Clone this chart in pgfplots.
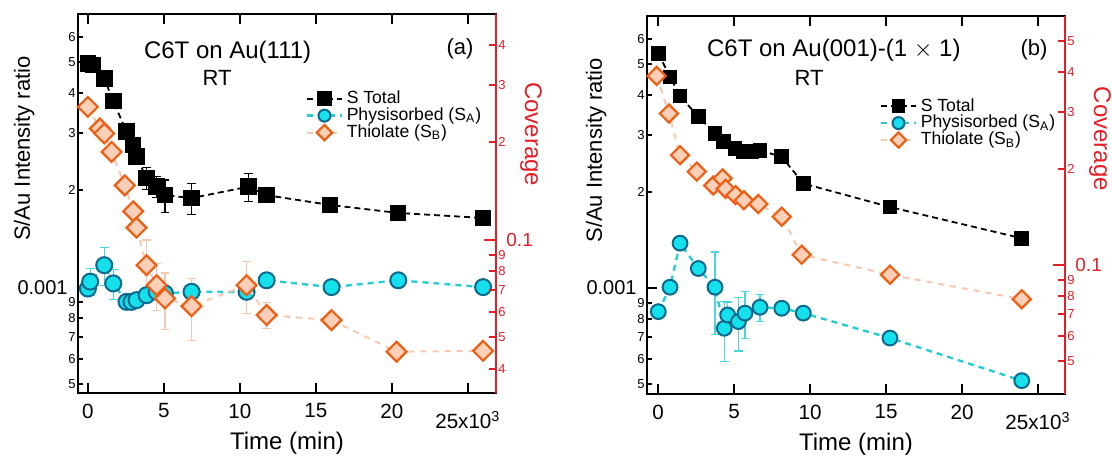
\documentclass[border=0pt]{standalone}
\usepackage{fontspec}
\setmainfont{Liberation Sans}
\usepackage{pgfplots}
\pgfplotsset{compat=1.18}
\definecolor{cyfill}{RGB}{20,225,235}
\definecolor{cyedge}{RGB}{10,105,140}
\definecolor{cyline}{RGB}{40,205,210}
\definecolor{cybar}{RGB}{70,215,225}
\definecolor{ored}{RGB}{238,95,20}
\definecolor{ofill}{RGB}{252,208,184}
\definecolor{oline}{RGB}{247,200,176}
\definecolor{axred}{RGB}{228,30,38}
\begin{document}
\begin{tikzpicture}
\useasboundingbox (0,0) rectangle (556pt,229pt);
% ---------------- panel (a) ----------------
\begin{axis}[anchor=south west, scale only axis, width=209pt, height=189.5pt,
    at={(39pt,32.5pt)},
    xmin=-650, xmax=26850, ymin=4.69e-4, ymax=7.05e-3,
    ymode=log, clip mode=individual, scaled x ticks=false,
    axis line style={line width=1.1pt},
    tick style={line width=1pt, black},
    tick align=inside, major tick length=5pt,
    xtick={0,5000,10000,15000,20000,25000},
    xticklabels={0,5,10,15,20,{\rule{0pt}{12.4pt}25x10\textsuperscript{3}}},
    xtick pos=both, xticklabel pos=lower,
    xticklabel style={font=\fontsize{10.3}{12}\selectfont, yshift=-1.8pt},
    ytick={1e-3}, yticklabels={0.001\hspace*{4pt}},
    yticklabel style={font=\fontsize{10}{12}\selectfont, inner xsep=1pt},
    ytick pos=left,
    extra y ticks={5e-4,6e-4,7e-4,8e-4,9e-4,2e-3,3e-3,4e-3,5e-3,6e-3},
    extra y tick labels={5,6,7,8,9,2,3,4,5,6},
    extra y tick style={major tick length=2.5pt, yticklabel style={font=\fontsize{6.5}{7}\selectfont}},
    yminorticks=false, xminorticks=false,
    xlabel={Time (min)}, ylabel={S/Au Intensity ratio},
    xlabel style={font=\fontsize{12}{14}\selectfont, at={(axis description cs:0.5,-0.150)}, anchor=base},
    ylabel style={font=\fontsize{11}{13}\selectfont, at={(axis description cs:-0.115,0.645)}, anchor=base},
    legend style={draw=none, fill=none, anchor=north west, inner sep=0pt,
      at={(rel axis cs:0.545,0.80)},
      font=\fontsize{8.8}{10}\selectfont, nodes={inner ysep=0.3pt, inner xsep=2pt}},
    legend cell align=left]
\addlegendimage{black, line width=0.9pt, dash pattern=on 3pt off 2pt, mark=square*, mark size=3.2pt, mark options={solid, fill=black}}
\addlegendentry{S Total}
\addlegendimage{cyline, line width=1.2pt, dash pattern=on 3pt off 2.5pt, mark=*, mark size=3pt, mark options={solid, fill=cyfill, draw=cyedge, line width=1pt}}
\addlegendentry{Physisorbed (S\textsubscript{A})}
\addlegendimage{oline, line width=1pt, dash pattern=on 3pt off 3pt, mark=square*, mark size=2.7pt, mark options={solid, rotate=45, fill=ofill, draw=ored, line width=1.1pt}}
\addlegendentry{Thiolate (S\textsubscript{B})}
% error bars
\addplot[forget plot, only marks, mark=none,
  error bars/y dir=both, error bars/y explicit, error bars/error mark=-,
  error bars/error bar style={line width=0.6pt, draw=oline, solid},
  error bars/error mark options={rotate=90, mark size=2.2pt, line width=0.6pt, draw=oline, solid}] coordinates {
 (3860,1.17e-3) +- (0,0.23e-3) (4520,1.014e-3) +- (0,0.17e-3) (5070,0.922e-3) +- (0,0.185e-3)
 (6820,0.873e-3) +- (0,0.19e-3) (10440,1.014e-3) +- (0,0.185e-3) (11760,0.819e-3) +- (0,0.077e-3)};
\addplot[forget plot, only marks, mark=none,
  error bars/y dir=both, error bars/y explicit, error bars/error mark=-,
  error bars/error bar style={line width=0.6pt, draw=cybar, solid},
  error bars/error mark options={rotate=90, mark size=2.2pt, line width=0.6pt, draw=cybar, solid}] coordinates {
 (150,1.04e-3) +- (0,0.1e-3) (1075,1.17e-3) +- (0,0.16e-3) (1670,1.027e-3) +- (0,0.11e-3)
 (4520,0.967e-3) +- (0,0.05e-3) (6820,0.967e-3) +- (0,0.05e-3)};
\addplot[forget plot, only marks, mark=none,
  error bars/y dir=both, error bars/y explicit, error bars/error mark=-,
  error bars/error bar style={line width=0.6pt, draw=black, solid},
  error bars/error mark options={rotate=90, mark size=2.2pt, line width=0.6pt, draw=black, solid}] coordinates {
 (3860,2.18e-3) +- (0,0.17e-3) (4520,2.05e-3) +- (0,0.15e-3) (5070,1.93e-3) +- (0,0.22e-3)
 (6820,1.89e-3) +- (0,0.21e-3) (10550,2.05e-3) +- (0,0.2e-3)};
% data
\addplot[forget plot, cyline, line width=1.2pt, dash pattern=on 3pt off 2.5pt, mark=*, mark size=4pt, mark options={solid, fill=cyfill, draw=cyedge, line width=1pt}] coordinates {
 (0,0.99e-3) (150,1.04e-3) (1075,1.17e-3) (1670,1.027e-3) (2540,0.90e-3) (2870,0.90e-3)
 (3200,0.911e-3) (3860,0.944e-3) (4520,0.967e-3) (5070,0.956e-3) (6820,0.967e-3)
 (10440,0.967e-3) (11760,1.05e-3) (16030,1.0e-3) (20420,1.05e-3) (26000,1.0e-3)};
\addplot[forget plot, oline, line width=1pt, dash pattern=on 3pt off 3pt, mark=square*, mark size=3.5pt, mark options={solid, rotate=45, fill=ofill, draw=ored, line width=1.1pt}] coordinates {
 (0,3.63e-3) (790,3.11e-3) (1075,3.0e-3) (1560,2.63e-3) (2430,2.07e-3) (2980,1.72e-3)
 (3200,1.53e-3) (3860,1.17e-3) (4520,1.014e-3) (5070,0.922e-3) (6820,0.873e-3)
 (10440,1.014e-3) (11760,0.819e-3) (16030,0.79e-3) (20310,0.63e-3) (26000,0.634e-3)};
\addplot[forget plot, black, line width=0.9pt, dash pattern=on 3pt off 2pt, mark=square*, mark size=3.7pt, mark options={solid, fill=black}] coordinates {
 (0,4.95e-3) (330,4.9e-3) (1075,4.45e-3) (1670,3.78e-3) (2540,3.04e-3) (2980,2.76e-3)
 (3200,2.54e-3) (3860,2.18e-3) (4520,2.05e-3) (5070,1.93e-3) (6820,1.89e-3)
 (10550,2.05e-3) (11760,1.93e-3) (15920,1.8e-3) (20400,1.70e-3) (26000,1.64e-3)};
\node[font=\fontsize{12}{14}\selectfont] at (rel axis cs:0.358,0.90) {C6T on Au(111)};
\node[font=\fontsize{11}{13}\selectfont] at (rel axis cs:0.333,0.831) {RT};
\node[font=\fontsize{11}{13}\selectfont] at (rel axis cs:0.914,0.908) {(a)};
\end{axis}
\begin{axis}[anchor=south west, scale only axis, width=209pt, height=189.5pt,
    at={(39pt,32.5pt)},
    ymode=log, clip mode=individual, xmin=0, xmax=1,
    ymin=0.0337, ymax=0.498,
    axis x line=none, axis y line*=right,
    y axis line style={-, draw=axred, line width=1.2pt},
    tick align=inside, major tick length=6pt,
    ytick style={axred, line width=1pt},
    ytick={0.1}, yticklabels={\hspace*{4pt}0.1},
    yticklabel style={text=axred, font=\fontsize{9.5}{11}\selectfont, inner xsep=1pt},
    extra y ticks={0.04,0.05,0.06,0.07,0.08,0.09,0.2,0.3,0.4},
    extra y tick labels={4,5,6,7,8,9,2,3,4},
    extra y tick style={major tick length=3.5pt, yticklabel style={font=\fontsize{6.5}{7}\selectfont}},
    yminorticks=false]
\node[rotate=-90, text=axred, font=\fontsize{12}{14}\selectfont] at (rel axis cs:1.084,0.683) {Coverage};
\end{axis}
% ---------------- panel (b) ----------------
\begin{axis}[anchor=south west, scale only axis, width=209pt, height=189pt,
    at={(323.5pt,32pt)},
    xmin=-724, xmax=26776, ymin=4.66e-4, ymax=7.08e-3,
    ymode=log, clip mode=individual, scaled x ticks=false,
    axis line style={line width=1.1pt},
    tick style={line width=1pt, black},
    tick align=inside, major tick length=5pt,
    xtick={0,5000,10000,15000,20000,25000},
    xticklabels={0,5,10,15,20,{\rule{0pt}{12.4pt}25x10\textsuperscript{3}}},
    xtick pos=both, xticklabel pos=lower,
    xticklabel style={font=\fontsize{10.3}{12}\selectfont, yshift=-1.8pt},
    ytick={1e-3}, yticklabels={0.001\hspace*{4pt}},
    yticklabel style={font=\fontsize{10}{12}\selectfont, inner xsep=1pt},
    ytick pos=left,
    extra y ticks={5e-4,6e-4,7e-4,8e-4,9e-4,2e-3,3e-3,4e-3,5e-3,6e-3},
    extra y tick labels={5,6,7,8,9,2,3,4,5,6},
    extra y tick style={major tick length=2.5pt, yticklabel style={font=\fontsize{6.5}{7}\selectfont}},
    yminorticks=false, xminorticks=false,
    xlabel={Time (min)}, ylabel={S/Au Intensity ratio},
    xlabel style={font=\fontsize{12}{14}\selectfont, at={(axis description cs:0.5,-0.150)}, anchor=base},
    ylabel style={font=\fontsize{11}{13}\selectfont, at={(axis description cs:-0.108,0.645)}, anchor=base},
    legend style={draw=none, fill=none, anchor=north west, inner sep=0pt,
      at={(rel axis cs:0.557,0.785)},
      font=\fontsize{8.8}{10}\selectfont, nodes={inner ysep=0.3pt, inner xsep=2pt}},
    legend cell align=left]
\addlegendimage{black, line width=0.9pt, dash pattern=on 3pt off 2pt, mark=square*, mark size=2.9pt, mark options={solid, fill=black}}
\addlegendentry{S Total}
\addlegendimage{cyline, line width=1.2pt, dash pattern=on 3pt off 2.5pt, mark=*, mark size=3pt, mark options={solid, fill=cyfill, draw=cyedge, line width=1pt}}
\addlegendentry{Physisorbed (S\textsubscript{A})}
\addlegendimage{oline, line width=1pt, dash pattern=on 3pt off 3pt, mark=square*, mark size=2.7pt, mark options={solid, rotate=45, fill=ofill, draw=ored, line width=1.1pt}}
\addlegendentry{Thiolate (S\textsubscript{B})}
\addplot[forget plot, only marks, mark=none,
  error bars/y dir=both, error bars/y explicit, error bars/error mark=-,
  error bars/error bar style={line width=0.6pt, draw=cybar, solid},
  error bars/error mark options={rotate=90, mark size=2.2pt, line width=0.6pt, draw=cybar, solid}] coordinates {
 (3750,1.005e-3) +- (0,0.29e-3) (4360,0.748e-3) +- (0,0.16e-3) (4580,0.823e-3) +- (0,0.08e-3)
 (5290,0.785e-3) +- (0,0.15e-3) (5720,0.834e-3) +- (0,0.14e-3) (6710,0.87e-3) +- (0,0.085e-3)};
\addplot[forget plot, cyline, line width=1.2pt, dash pattern=on 3pt off 2.5pt, mark=*, mark size=3.7pt, mark options={solid, fill=cyfill, draw=cyedge, line width=1pt}] coordinates {
 (20,0.843e-3) (790,1.005e-3) (1450,1.38e-3) (2650,1.15e-3) (3750,1.005e-3) (4360,0.748e-3)
 (4580,0.823e-3) (5290,0.785e-3) (5720,0.834e-3) (6710,0.87e-3) (8140,0.864e-3)
 (9560,0.834e-3) (15260,0.697e-3) (23930,0.513e-3)};
\addplot[forget plot, black, line width=0.9pt, dash pattern=on 3pt off 2pt, mark=square*, mark size=3.2pt, mark options={solid, fill=black}] coordinates {
 (20,5.41e-3) (790,4.57e-3) (1450,3.98e-3) (2650,3.43e-3) (3750,3.04e-3) (4300,2.87e-3)
 (5070,2.73e-3) (5610,2.67e-3) (6160,2.67e-3) (6710,2.69e-3) (8140,2.57e-3)
 (9560,2.12e-3) (15260,1.79e-3) (23930,1.43e-3)};
\addplot[forget plot, oline, line width=1pt, dash pattern=on 3pt off 3pt, mark=square*, mark size=3.2pt, mark options={solid, rotate=45, fill=ofill, draw=ored, line width=1.1pt}] coordinates {
 (-90,4.6e-3) (720,3.51e-3) (1450,2.6e-3) (2550,2.31e-3) (3640,2.09e-3) (4250,2.2e-3)
 (4450,2.04e-3) (5100,1.95e-3) (5650,1.88e-3) (6600,1.83e-3) (8140,1.67e-3)
 (9450,1.27e-3) (15260,1.10e-3) (23930,0.922e-3)};
\node[font=\fontsize{12}{14}\selectfont] at (rel axis cs:0.447,0.91) {C6T on Au(001)-(1 $\times$ 1)};
\node[font=\fontsize{11}{13}\selectfont] at (rel axis cs:0.388,0.836) {RT};
\node[font=\fontsize{11}{13}\selectfont] at (rel axis cs:0.926,0.91) {(b)};
\end{axis}
\begin{axis}[anchor=south west, scale only axis, width=209pt, height=189pt,
    at={(323.5pt,32pt)},
    ymode=log, clip mode=individual, xmin=0, xmax=1,
    ymin=0.0395, ymax=0.6,
    axis x line=none, axis y line*=right,
    y axis line style={-, draw=axred, line width=1.2pt},
    tick align=inside, major tick length=6pt,
    ytick style={axred, line width=1pt},
    ytick={0.1}, yticklabels={\hspace*{4pt}0.1},
    yticklabel style={text=axred, font=\fontsize{9.5}{11}\selectfont, inner xsep=1pt},
    extra y ticks={0.05,0.06,0.07,0.08,0.09,0.2,0.3,0.4,0.5},
    extra y tick labels={5,6,7,8,9,2,3,4,5},
    extra y tick style={major tick length=3.5pt, yticklabel style={font=\fontsize{6.5}{7}\selectfont}},
    yminorticks=false]
\node[rotate=-90, text=axred, font=\fontsize{12}{14}\selectfont] at (rel axis cs:1.084,0.675) {Coverage};
\end{axis}
\end{tikzpicture}
\end{document}
